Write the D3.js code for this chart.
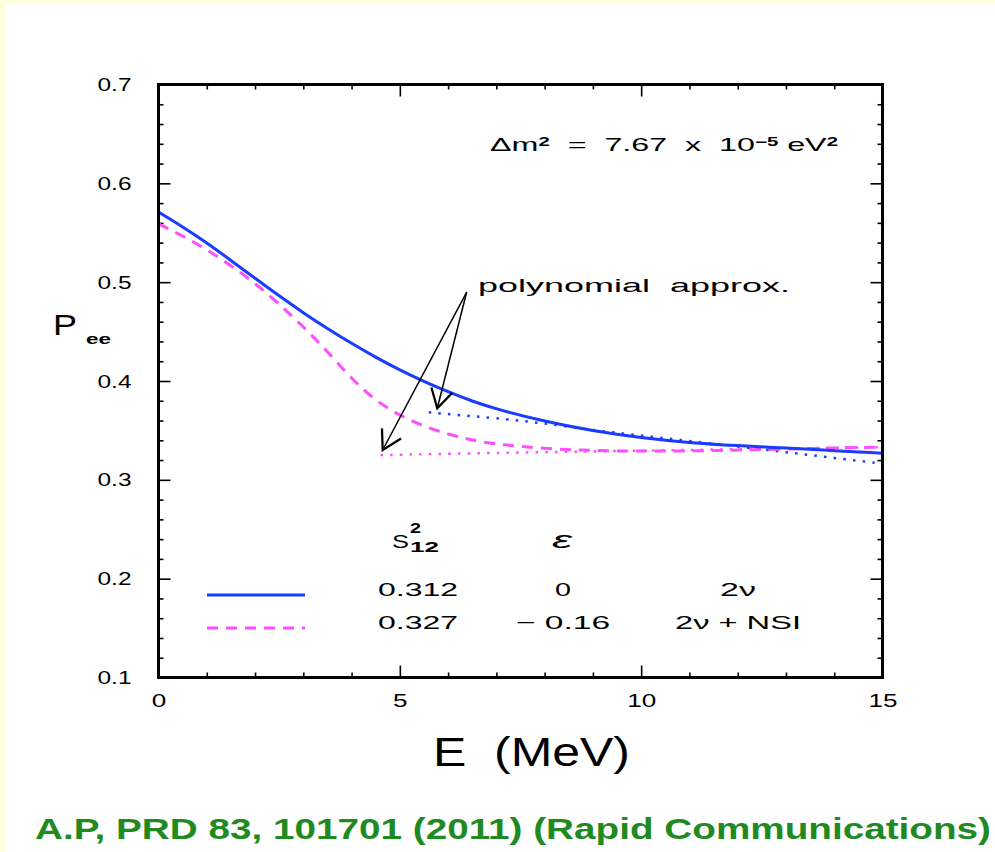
<!DOCTYPE html>
<html>
<head>
<meta charset="utf-8">
<script src="https://cdn.jsdelivr.net/npm/d3@7"></script>
<style>
  html, body { margin: 0; padding: 0; background: #fff; }
  svg { display: block; }
  text { font-family: "Liberation Sans", Arial, sans-serif; fill: #000; }
</style>
</head>
<body>
<svg id="chart" width="995" height="852"></svg>
<script>
// Electron-neutrino survival probability vs. energy
const energy  = [0, 0.5, 1, 1.5, 2, 2.5, 3, 3.5, 4, 4.5, 5, 5.5, 6, 6.5, 7, 8, 9, 10, 11, 12, 13, 14, 15];
const pee2nu  = [0.571, 0.556, 0.540, 0.522, 0.504, 0.486, 0.469, 0.453, 0.438, 0.424, 0.411, 0.3995, 0.389, 0.3795, 0.3715,
                 0.359, 0.3495, 0.3425, 0.3375, 0.3345, 0.3322, 0.3295, 0.327];
const peeNSI  = [0.559, 0.547, 0.533, 0.517, 0.499, 0.478, 0.455, 0.430, 0.402, 0.380, 0.365, 0.354, 0.346, 0.340, 0.336,
                 0.3315, 0.3295, 0.329, 0.3292, 0.330, 0.3312, 0.3322, 0.3332];

// polynomial approximations of the two curves
const polyEnergy2nu = [5.6, 6, 7, 8, 9, 10, 11, 12, 13, 14, 15];
const poly2nu       = [0.3683, 0.3664, 0.3625, 0.3572, 0.3503, 0.3448, 0.3393, 0.3337, 0.328, 0.3222, 0.3163];
const polyEnergyNSI = [4.6, 6, 8, 10, 12, 14, 15];
const polyNSI       = [0.325, 0.3264, 0.328, 0.3295, 0.331, 0.3324, 0.3331];

// axis ticks
const xMajorTicks = [0, 5, 10, 15];
const xMinorTicks = [1, 2, 3, 4, 6, 7, 8, 9, 11, 12, 13, 14];
const yMajorTicks = [0.1, 0.2, 0.3, 0.4, 0.5, 0.6, 0.7];
const yMinorTicks = [0.12, 0.14, 0.16, 0.18, 0.22, 0.24, 0.26, 0.28, 0.32, 0.34, 0.36, 0.38,
                     0.42, 0.44, 0.46, 0.48, 0.52, 0.54, 0.56, 0.58, 0.62, 0.64, 0.66, 0.68];

// legend table
const legendS12   = ["0.312", "0.327"];
const legendEps   = ["0", "\u2212 0.16"];
const legendModel = ["2\u03BD", "2\u03BD + NSI"];

// annotation arrows: common tail, heads at the start of each approximation
const arrowTail  = [6.385, 0.490];
const arrowHeads = [[5.776, 0.3724], [4.645, 0.3302]];

const BLUE = "#1a3cff";
const MAGENTA = "#ff4dff";

const svg = d3.select("#chart");

// page background: pale yellow edge, white sheet
svg.append("rect").attr("width", 995).attr("height", 852).attr("fill", "#ffffdc");
svg.append("rect").attr("x", 6).attr("y", 4).attr("width", 989).attr("height", 848).attr("fill", "#fff");

const x = d3.scaleLinear().domain([0, 15]).range([158.5, 882.5]);
const y = d3.scaleLinear().domain([0.1, 0.7]).range([677.5, 84.5]);

const textWidth = s => s.replace(/[^0-9]/g, "").length * 14.5 + s.replace(/[0-9]/g, "").length * 5;

function styleAxis(g) {
  g.select(".domain").remove();
  g.selectAll(".tick line").attr("stroke", "#000").attr("stroke-width", 1.6);
  g.selectAll(".tick text")
    .attr("font-family", "Liberation Sans, Arial, sans-serif")
    .attr("font-size", 19)
    .attr("fill", "#000")
    .attr("lengthAdjust", "spacingAndGlyphs")
    .attr("textLength", function () { return textWidth(this.textContent); });
}

// bottom axis
svg.append("g").attr("transform", `translate(0,${y.range()[0]})`)
  .call(d3.axisBottom(x).tickValues(xMajorTicks).tickSize(-12).tickPadding(16).tickFormat(d3.format("d")))
  .call(styleAxis);
svg.append("g").attr("transform", `translate(0,${y.range()[0]})`)
  .call(d3.axisBottom(x).tickValues(xMinorTicks).tickSize(-5).tickFormat(""))
  .call(styleAxis);
// top axis
svg.append("g").attr("transform", `translate(0,${y.range()[1]})`)
  .call(d3.axisTop(x).tickValues(xMajorTicks).tickSize(-12).tickFormat(""))
  .call(styleAxis);
svg.append("g").attr("transform", `translate(0,${y.range()[1]})`)
  .call(d3.axisTop(x).tickValues(xMinorTicks).tickSize(-5).tickFormat(""))
  .call(styleAxis);
// left axis
svg.append("g").attr("transform", `translate(${x.range()[0]},0)`)
  .call(d3.axisLeft(y).tickValues(yMajorTicks).tickSize(-12).tickPadding(27).tickFormat(d3.format(".1f")))
  .call(styleAxis);
svg.append("g").attr("transform", `translate(${x.range()[0]},0)`)
  .call(d3.axisLeft(y).tickValues(yMinorTicks).tickSize(-5).tickFormat(""))
  .call(styleAxis);
// right axis
svg.append("g").attr("transform", `translate(${x.range()[1]},0)`)
  .call(d3.axisRight(y).tickValues(yMajorTicks).tickSize(-12).tickFormat(""))
  .call(styleAxis);
svg.append("g").attr("transform", `translate(${x.range()[1]},0)`)
  .call(d3.axisRight(y).tickValues(yMinorTicks).tickSize(-5).tickFormat(""))
  .call(styleAxis);

// curves
const smooth = d3.line().x(d => x(d[0])).y(d => y(d[1])).curve(d3.curveBasis);
const pairs = (xs, ys) => xs.map((v, i) => [v, ys[i]]);

const plot = svg.append("g");
plot.append("path").attr("d", smooth(pairs(polyEnergyNSI, polyNSI)))
  .attr("fill", "none").attr("stroke", MAGENTA).attr("stroke-width", 2.5)
  .attr("stroke-dasharray", "2.5,7.2");
plot.append("path").attr("d", smooth(pairs(polyEnergy2nu, poly2nu)))
  .attr("fill", "none").attr("stroke", BLUE).attr("stroke-width", 2.5)
  .attr("stroke-dasharray", "2.5,7.2");
plot.append("path").attr("d", smooth(pairs(energy, peeNSI)))
  .attr("fill", "none").attr("stroke", MAGENTA).attr("stroke-width", 3)
  .attr("stroke-dasharray", "11,8");
plot.append("path").attr("d", smooth(pairs(energy, pee2nu)))
  .attr("fill", "none").attr("stroke", BLUE).attr("stroke-width", 3);

// frame
svg.append("rect")
  .attr("x", x.range()[0]).attr("y", y.range()[1])
  .attr("width", x.range()[1] - x.range()[0]).attr("height", y.range()[0] - y.range()[1])
  .attr("fill", "none").attr("stroke", "#000").attr("stroke-width", 3);

// arrows
svg.append("defs").append("marker")
  .attr("id", "openhead").attr("markerUnits", "userSpaceOnUse")
  .attr("markerWidth", 30).attr("markerHeight", 30)
  .attr("refX", 0).attr("refY", 0).attr("viewBox", "-16 -10 20 20")
  .attr("orient", "auto")
  .append("path").attr("d", "M-12.5,-7.2 L0,0 L-12.5,7.2")
  .attr("fill", "none").attr("stroke", "#000").attr("stroke-width", 1.5);

arrowHeads.forEach(h => {
  svg.append("line")
    .attr("x1", x(arrowTail[0])).attr("y1", y(arrowTail[1]))
    .attr("x2", x(h[0])).attr("y2", y(h[1]))
    .attr("stroke", "#000").attr("stroke-width", 1.5)
    .attr("marker-end", "url(#openhead)");
});

// annotations
const dm = svg.append("text").attr("x", 490).attr("y", 151).attr("font-size", 19)
  .attr("textLength", 348).attr("lengthAdjust", "spacingAndGlyphs");
dm.append("tspan").text("\u0394m");
dm.append("tspan").text("2").attr("font-size", 12).attr("font-weight", "bold").attr("baseline-shift", "45%");
dm.append("tspan").text("  =  7.67  x  10");
dm.append("tspan").text("\u22125").attr("font-size", 12).attr("font-weight", "bold").attr("baseline-shift", "45%");
dm.append("tspan").text(" eV");
dm.append("tspan").text("2").attr("font-size", 12).attr("font-weight", "bold").attr("baseline-shift", "45%");
dm.style("white-space", "pre");

svg.append("text").attr("x", 478).attr("y", 292).attr("font-size", 19)
  .attr("textLength", 312).attr("lengthAdjust", "spacingAndGlyphs")
  .style("white-space", "pre")
  .text("polynomial  approx.");

// axis titles
svg.append("text").attr("x", 53).attr("y", 335).attr("font-size", 29)
  .attr("textLength", 24).attr("lengthAdjust", "spacingAndGlyphs").text("P");
svg.append("text").attr("x", 86).attr("y", 344).attr("font-size", 14).attr("font-weight", "bold")
  .attr("textLength", 25).attr("lengthAdjust", "spacingAndGlyphs").text("ee");

svg.append("text").attr("x", 433).attr("y", 766).attr("font-size", 40)
  .attr("textLength", 197).attr("lengthAdjust", "spacingAndGlyphs")
  .style("white-space", "pre").text("E  (MeV)");

// legend header
const hdr = svg.append("g");
hdr.append("text").attr("x", 392).attr("y", 548).attr("font-size", 19)
  .attr("textLength", 17).attr("lengthAdjust", "spacingAndGlyphs").text("S");
hdr.append("text").attr("x", 410).attr("y", 533).attr("font-size", 14).attr("font-weight", "bold")
  .attr("textLength", 11).attr("lengthAdjust", "spacingAndGlyphs").text("2");
hdr.append("text").attr("x", 410).attr("y", 552).attr("font-size", 15).attr("font-weight", "bold")
  .attr("textLength", 29).attr("lengthAdjust", "spacingAndGlyphs").text("12");
hdr.append("text").attr("x", 552).attr("y", 548).attr("font-size", 24).attr("font-style", "italic")
  .attr("font-family", "DejaVu Sans, sans-serif")
  .attr("textLength", 20).attr("lengthAdjust", "spacingAndGlyphs").text("\u025B");

// legend rows, columns centred under the headers
const colS12 = 418, colEps = 563, colModel = 738;
const rowY = [595, 628];
const rowStroke = [{ c: BLUE, dash: null }, { c: MAGENTA, dash: "11,8" }];
rowY.forEach((ry, i) => {
  svg.append("line").attr("x1", 207).attr("x2", 305).attr("y1", ry).attr("y2", ry)
    .attr("stroke", rowStroke[i].c).attr("stroke-width", 3)
    .attr("stroke-dasharray", rowStroke[i].dash);
  svg.append("text").attr("x", colS12).attr("y", ry + 1).attr("font-size", 19)
    .attr("text-anchor", "middle")
    .attr("textLength", 80).attr("lengthAdjust", "spacingAndGlyphs").text(legendS12[i]);
  svg.append("text").attr("x", colEps).attr("y", ry + 1).attr("font-size", 19)
    .attr("text-anchor", "middle")
    .attr("textLength", i === 0 ? 16 : 94).attr("lengthAdjust", "spacingAndGlyphs")
    .style("white-space", "pre").text(legendEps[i]);
  svg.append("text").attr("x", colModel).attr("y", ry + 1).attr("font-size", 19)
    .attr("text-anchor", "middle")
    .attr("textLength", i === 0 ? 36 : 126).attr("lengthAdjust", "spacingAndGlyphs")
    .style("white-space", "pre").text(legendModel[i]);
});

// reference line
svg.append("text").attr("x", 35).attr("y", 839)
  .attr("font-family", "DejaVu Sans, sans-serif").attr("font-weight", "bold").attr("font-size", 30)
  .style("fill", "#1f8a1f")
  .attr("textLength", 956).attr("lengthAdjust", "spacingAndGlyphs")
  .text("A.P, PRD 83, 101701 (2011) (Rapid Communications)");
</script>
</body>
</html>
